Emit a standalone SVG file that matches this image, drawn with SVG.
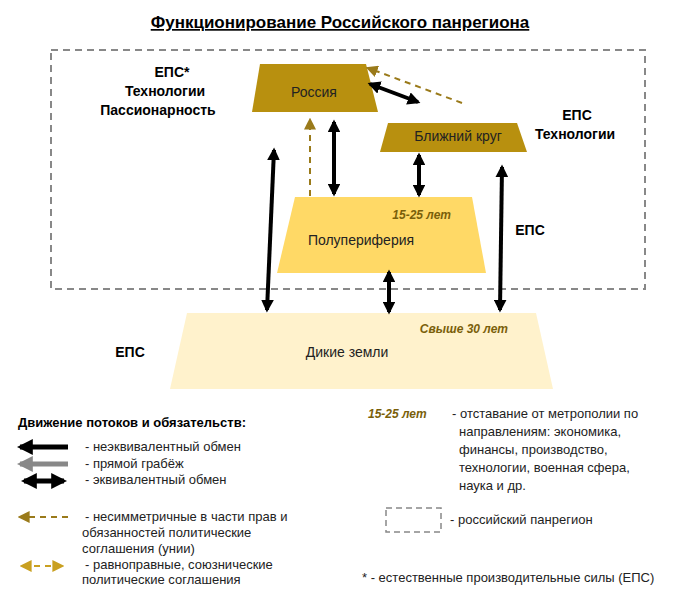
<svg xmlns="http://www.w3.org/2000/svg" width="681" height="595" viewBox="0 0 681 595">
<style>
text{font-family:"Liberation Sans",Arial,sans-serif;}
.b{font-weight:bold;font-size:14px;fill:#000}
.n{font-size:14px;fill:#222}
.y{font-weight:bold;font-style:italic;font-size:12px;fill:#7a5f0a}
.l{font-size:13px;fill:#222}
.blk{stroke:#000;stroke-width:4;fill:none}
.gd{stroke:#9a7a1a;stroke-width:2;stroke-dasharray:6 5;fill:none}
.gd2{stroke:#c9a020;stroke-width:2;stroke-dasharray:6 5;fill:none}
</style>
<defs>
<marker id="ah" viewBox="0 0 10 10" refX="8" refY="5" markerWidth="3.2" markerHeight="3.2" orient="auto-start-reverse"><path d="M0,0L10,5L0,10z" fill="#000"/></marker>
<marker id="agr" viewBox="0 0 10 10" refX="8" refY="5" markerWidth="3.2" markerHeight="3.2" orient="auto-start-reverse"><path d="M0,0L10,5L0,10z" fill="#888"/></marker>
<marker id="ag" viewBox="0 0 10 10" refX="8" refY="5" markerWidth="6" markerHeight="6" orient="auto-start-reverse"><path d="M0,0L10,5L0,10z" fill="#9a7a1a"/></marker>
<marker id="ag2" viewBox="0 0 10 10" refX="8" refY="5" markerWidth="6" markerHeight="6" orient="auto-start-reverse"><path d="M0,0L10,5L0,10z" fill="#c9a020"/></marker>
</defs>
<rect width="681" height="595" fill="#fff"/>
<text x="340" y="28" text-anchor="middle" font-size="17" font-weight="bold" text-decoration="underline">Функционирование Российского панрегиона</text>
<rect x="51" y="50" width="594" height="239" fill="none" stroke="#888" stroke-width="2" stroke-dasharray="7 5"/>
<g id="wild"><polygon points="187,313 536,313 553,389 170,389" fill="#fff2cc"/><text x="347" y="357" class="n" text-anchor="middle">Дикие земли</text><text x="508" y="333" class="y" text-anchor="end">Свыше 30 лет</text></g>
<g id="semi"><polygon points="295,197 472,197 486,273 277,273" fill="#ffd966"/><text x="361" y="245" class="n" text-anchor="middle">Полупериферия</text><text x="451" y="219" class="y" text-anchor="end">15-25 лет</text></g>
<g id="russia"><polygon points="260,64 366,64 378,112 252,112" fill="#b8900f"/><text x="314" y="97" class="n" text-anchor="middle">Россия</text></g>
<g id="near"><polygon points="388,123 517,123 527,152 380,152" fill="#b8900f"/><text x="458" y="141" class="n" text-anchor="middle">Ближний  круг</text></g>
<g id="labels">
<text x="172" y="77" class="b" text-anchor="middle">ЕПС*</text>
<text x="165" y="96" class="b" text-anchor="middle">Технологии</text>
<text x="158" y="115" class="b" text-anchor="middle">Пассионарность</text>
<text x="577" y="120" class="b" text-anchor="middle">ЕПС</text>
<text x="575" y="139" class="b" text-anchor="middle">Технологии</text>
<text x="530" y="235" class="b" text-anchor="middle">ЕПС</text>
<text x="130" y="357" class="b" text-anchor="middle">ЕПС</text>
</g>
<g id="connectors">
<line x1="274" y1="150" x2="267" y2="310" class="blk" marker-start="url(#ah)" marker-end="url(#ah)"/>
<line x1="334" y1="122" x2="334" y2="194" class="blk" marker-start="url(#ah)" marker-end="url(#ah)"/>
<line x1="419" y1="155" x2="419" y2="195" class="blk" marker-start="url(#ah)" marker-end="url(#ah)"/>
<line x1="502" y1="167" x2="500" y2="310" class="blk" marker-start="url(#ah)" marker-end="url(#ah)"/>
<line x1="389" y1="272" x2="389" y2="312" class="blk" marker-start="url(#ah)" marker-end="url(#ah)"/>
<line x1="370" y1="84" x2="418" y2="102" class="blk" marker-start="url(#ah)" marker-end="url(#ah)"/>
<line x1="310" y1="196" x2="310" y2="120" class="gd" marker-end="url(#ag)"/>
<line x1="462" y1="103" x2="368" y2="68" class="gd" marker-end="url(#ag)"/>
</g>
<g id="legend">
<text x="18" y="427" font-size="13" font-weight="bold">Движение потоков и обязательств:</text>
<line x1="68" y1="447" x2="20" y2="447" stroke="#000" stroke-width="5" marker-end="url(#ah)"/>
<line x1="68" y1="464" x2="20" y2="464" stroke="#888" stroke-width="5" marker-end="url(#agr)"/>
<line x1="64" y1="481" x2="24" y2="481" stroke="#000" stroke-width="5" marker-start="url(#ah)" marker-end="url(#ah)"/>
<text x="85" y="451" class="l">- неэквивалентный обмен</text>
<text x="85" y="468" class="l">- прямой грабёж</text>
<text x="85" y="484" class="l">- эквивалентный обмен</text>
<line x1="68" y1="517" x2="20" y2="517" class="gd" marker-end="url(#ag)"/>
<text x="85" y="521" class="l">- несимметричные в части прав и</text>
<text x="82" y="537" class="l">обязанностей политические</text>
<text x="82" y="553" class="l">соглашения (унии)</text>
<line x1="62" y1="566" x2="22" y2="566" class="gd2" marker-start="url(#ag2)" marker-end="url(#ag2)"/>
<text x="85" y="569" class="l">- равноправные, союзнические</text>
<text x="82" y="584" class="l">политические соглашения</text>
<text x="368" y="418" class="y">15-25 лет</text>
<text x="452" y="418" class="l">- отставание от метрополии по</text>
<text x="459" y="436" class="l">направлениям: экономика,</text>
<text x="459" y="454" class="l">финансы, производство,</text>
<text x="459" y="472" class="l">технологии, военная сфера,</text>
<text x="459" y="490" class="l">наука и др.</text>
<rect x="386" y="508" width="55" height="24" fill="none" stroke="#888" stroke-width="1.5" stroke-dasharray="6 4"/>
<text x="450" y="524" class="l">- российский панрегион</text>
<text x="362" y="582" class="l">* - естественные производительные силы (ЕПС)</text>
</g>
</svg>
